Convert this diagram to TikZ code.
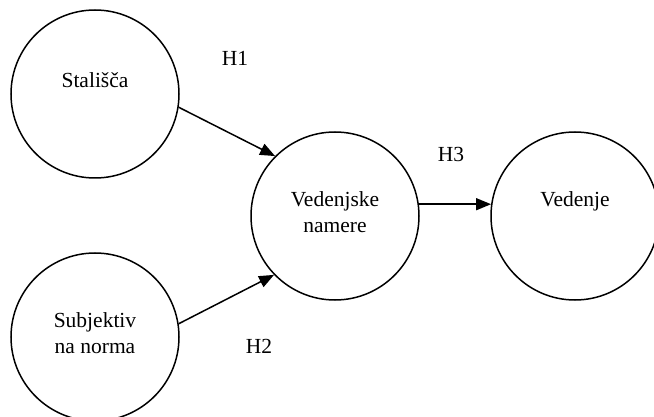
\documentclass[tikz,border=0pt]{standalone}
\usepackage{fontspec}
\setmainfont{Liberation Serif}
\usetikzlibrary{arrows.meta}
\begin{document}
\begin{tikzpicture}[x=1pt,y=-1pt,
  bubble/.style={draw, circle, line width=1.5pt, minimum size=168pt, inner sep=0pt},
  txt/.style={font=\fontsize{21.5}{26}\selectfont, align=center, anchor=base, inner sep=0pt},
  link/.style={line width=1.5pt, -{Triangle[length=15pt,width=12pt]}}]
\useasboundingbox (0,0) rectangle (654,417);
\node[bubble] (s) at (95,94) {};
\node[bubble] (n) at (95,337) {};
\node[bubble] (v) at (335,216) {};
\node[bubble] (b) at (575,216) {};
\node[txt] (st) at (95,88) {Stališča};
\node[txt] (nt) at (95,353) {Subjektiv\\na norma};
\node[txt] (vt) at (335,233) {Vedenjske\\namere};
\node[txt] (bt) at (575,207) {Vedenje};
\node[txt] (h1) at (235,66) {H1};
\node[txt] (h2) at (259,353) {H2};
\node[txt] (h3) at (451,162) {H3};
\draw[link] (s.-9) -- (v.135);
\draw[link] (n.9) -- (v.-136);
\draw[link] (v.8) -- (b.172);
\end{tikzpicture}
\end{document}
